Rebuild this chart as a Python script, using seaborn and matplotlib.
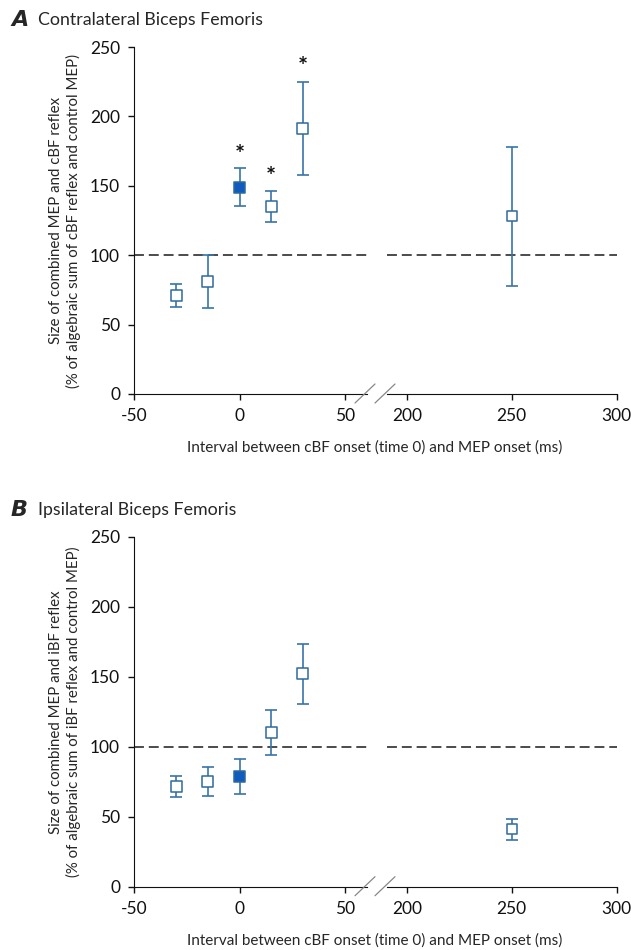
import numpy as np
import pandas as pd
import seaborn as sns
import matplotlib
matplotlib.use("Agg")
import matplotlib.pyplot as plt
from matplotlib.lines import Line2D

sns.set_style("ticks")
plt.rcParams['font.family'] = ['Lato', 'DejaVu Sans']
plt.rcParams['axes.unicode_minus'] = False

# interval (ms) between cBF onset and MEP onset
intervals = [-30, -15, 0, 15, 30, 250]
filled = [False, False, True, False, False, False]

# panel A: contralateral biceps femoris
a_mean = [71, 81, 149, 135, 191, 128]
a_err = [8, 19, 13.5, 11, 33.5, 50]
a_star = [None, None, 172, 156, 235, None]

# panel B: ipsilateral biceps femoris
b_mean = [71.5, 75, 78.5, 110, 152, 41]
b_err = [7.5, 10.5, 12.5, 16, 21.5, 7.5]

W, H = 631, 950
edge_col = '#2f6a9c'
bar_col = '#3a74a8'
fill_col = '#0f5bbe'

fig = plt.figure(figsize=(W / 100, H / 100), dpi=100)


def px_axes(x0, x1, ytop, ybot):
    return fig.add_axes([x0 / W, 1 - ybot / H, (x1 - x0) / W, (ybot - ytop) / H])


def draw_panel(ytop, ybot, means, errs, stars, letter, title, tissue):
    df = pd.DataFrame({'interval': intervals, 'size': means, 'err': errs,
                       'kind': ['filled' if f else 'open' for f in filled]})
    left = px_axes(134, 367, ytop, ybot)
    right = px_axes(387, 617, ytop, ybot)
    for ax, lo, hi in [(left, -50, 60.4), (right, 190.6, 300.2)]:
        sub = df[(df['interval'] >= lo) & (df['interval'] <= hi)]
        ax.errorbar(sub['interval'], sub['size'], yerr=sub['err'], fmt='none',
                    ecolor=bar_col, elinewidth=1.2, capsize=4.2, capthick=1.2, zorder=2)
        sns.scatterplot(data=sub, x='interval', y='size', hue='kind',
                        palette={'open': 'white', 'filled': fill_col},
                        marker='s', s=62, edgecolor=edge_col, linewidth=1.1,
                        legend=False, ax=ax, zorder=3)
        ax.axhline(100, color='#1a1a1a', lw=1.1, dashes=(6.5, 3.2), zorder=1)
        ax.set_xlim(lo, hi)
        ax.set_ylim(0, 250)
        ax.set_xlabel('')
        ax.set_ylabel('')
        for s in ['top', 'right']:
            ax.spines[s].set_visible(False)
        ax.spines['bottom'].set_color('#111111')
        ax.spines['left'].set_color('#111111')
        ax.tick_params(labelsize=12.5, length=4, width=1, colors='#111111', pad=6)
        ax.patch.set_alpha(0)
    left.set_xticks([-50, 0, 50])
    left.set_yticks([0, 50, 100, 150, 200, 250])
    right.set_xticks([200, 250, 300])
    right.spines['left'].set_visible(False)
    right.tick_params(axis='y', left=False, labelleft=False)

    for x, s in zip(intervals, stars):
        if s is not None:
            left.text(x, s, '*', ha='center', va='center', fontsize=17,
                      fontweight='bold', color='#111111')

    # axis break marks
    yb = ybot
    for xs in [355, 375]:
        fig.add_artist(Line2D([xs / W, (xs + 20) / W], [1 - (yb + 9) / H, 1 - (yb - 10) / H],
                              color='#888888', lw=0.9))

    fig.text(11 / W, 1 - (ytop - 27) / H, letter, fontsize=16, fontweight='bold',
             fontstyle='italic', va='center', ha='left', family=['DejaVu Sans'])
    fig.text(38 / W, 1 - (ytop - 27) / H, title, fontsize=12.8, va='center', ha='left')
    fig.text(375 / W, 1 - (ybot + 54) / H,
             'Interval between cBF onset (time 0) and MEP onset (ms)',
             fontsize=11, ha='center', va='center')
    fig.text(65 / W, 1 - ((ytop + ybot) / 2) / H,
             'Size of combined MEP and %s reflex\n(%% of algebraic sum of %s reflex and control MEP)'
             % (tissue, tissue),
             fontsize=10.8, rotation=90, ha='center', va='center', linespacing=1.25)


draw_panel(47, 394, a_mean, a_err, a_star, 'A', 'Contralateral Biceps Femoris', 'cBF')
draw_panel(536.7, 886.7, b_mean, b_err, [None] * 6, 'B', 'Ipsilateral Biceps Femoris', 'iBF')

fig.savefig('out.png', dpi=100)
